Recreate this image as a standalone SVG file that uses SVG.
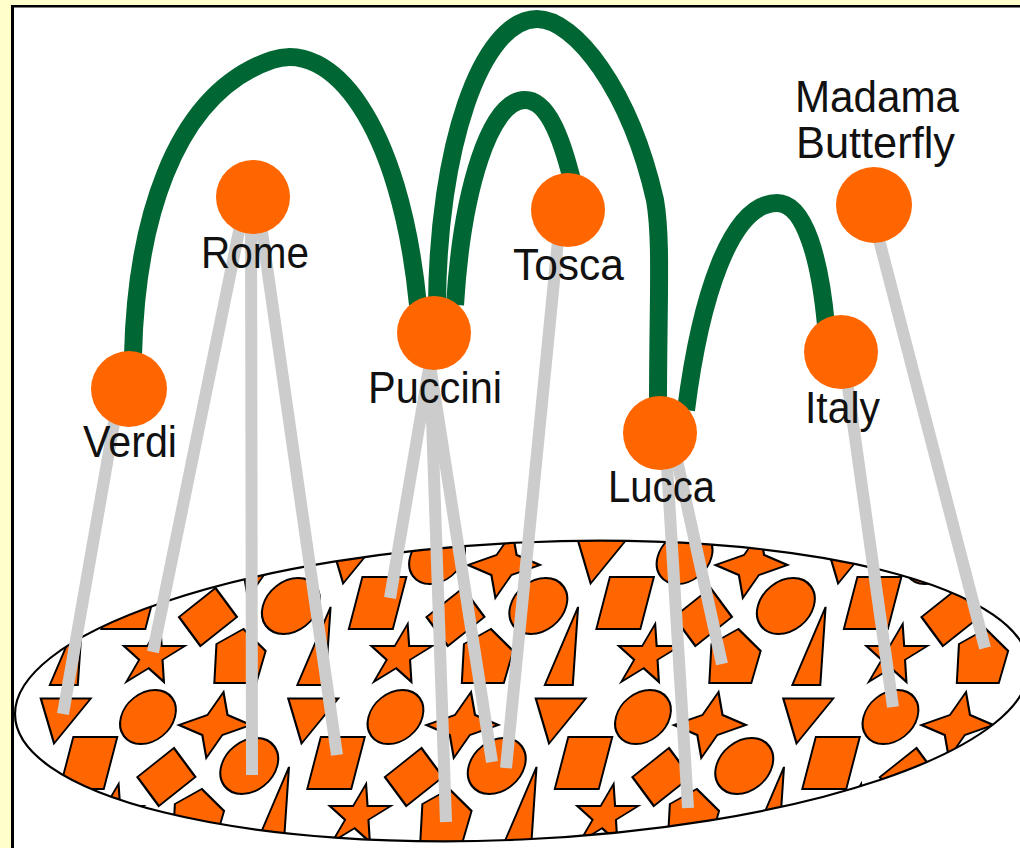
<svg xmlns="http://www.w3.org/2000/svg" xmlns:xlink="http://www.w3.org/1999/xlink" width="1020" height="848" viewBox="0 0 1020 848">
<style>
.sh{fill:#FF6600;stroke:#000;stroke-width:2}
.gl{stroke:#CCCCCC;stroke-width:12;fill:none;stroke-linecap:butt}
.ar{stroke:#006633;stroke-width:18;fill:none;stroke-linecap:butt}
.nd{fill:#FF6600}
.lb{font-family:"Liberation Sans",Arial,sans-serif;font-size:45px;fill:#111;lengthAdjust:spacingAndGlyphs}
</style>
<defs>
<polygon id="s5" points="0,-32 7.23,-9.95 30.43,-9.89 11.7,3.8 18.81,25.89 0,12.3 -18.81,25.89 -11.7,3.8 -30.43,-9.89 -7.23,-9.95"/>
<polygon id="s4" points="0,-33 10,-10 36,0 10,10 0,33 -10,10 -36,0 -10,-10"/>
<polygon id="td" points="-25,-15 25,-15 0,30"/>
<polygon id="tt" points="3,-42 18,36 -10,36"/>
<polygon id="pr" points="-22,-26 22,-26 22,26 -22,26"/>
<polygon id="tq" points="0,-29 29,0 0,29 -29,0"/>
<polygon id="pe" points="-28,-17 -5,-32 23,-10 22,22 -20,22"/>
<g id="cell" class="sh">
<use href="#s5" x="143" y="656"/>
<circle cx="155" cy="717" r="27"/>
<use href="#s4" x="224" y="725"/>
<use href="#td" x="68" y="713.5"/>
<circle cx="269" cy="606" r="28"/>
<use href="#pr" x="355" y="603"/>
<use href="#tq" x="189" y="617"/>
<use href="#pe" x="232.5" y="661"/>
<use href="#tt" x="306" y="649"/>
</g>
<clipPath id="ec">
<ellipse cx="0" cy="0" rx="507" ry="148.5" transform="translate(522,691) matrix(1,-0.0454,0,1,0,0)"/>
</clipPath>
</defs>

<g id="frame">
<rect width="1020" height="848" fill="#FFFFCC"/>
<rect x="12" y="6" width="1010" height="845" fill="#FFFFFF"/>
<line x1="11" y1="6.2" x2="1020" y2="6.2" stroke="#000" stroke-width="2.4"/>
<line x1="12.5" y1="5" x2="12.5" y2="848" stroke="#000" stroke-width="3"/>
</g>

<g id="disk">
<ellipse cx="0" cy="0" rx="507" ry="148.5" fill="#FFFFFF" transform="translate(522,691) matrix(1,-0.0454,0,1,0,0)"/>
<g clip-path="url(#ec)">
<g transform="translate(0,690) skewX(-14.57) translate(0,-690)">
<use href="#cell" x="-247.5" y="-160"/><use href="#cell" x="0" y="-160"/><use href="#cell" x="247.5" y="-160"/><use href="#cell" x="495" y="-160"/><use href="#cell" x="742.5" y="-160"/><use href="#cell" x="990" y="-160"/>
<use href="#cell" x="-247.5" y="0"/><use href="#cell" x="0" y="0"/><use href="#cell" x="247.5" y="0"/><use href="#cell" x="495" y="0"/><use href="#cell" x="742.5" y="0"/><use href="#cell" x="990" y="0"/>
<use href="#cell" x="-247.5" y="160"/><use href="#cell" x="0" y="160"/><use href="#cell" x="247.5" y="160"/><use href="#cell" x="495" y="160"/><use href="#cell" x="742.5" y="160"/><use href="#cell" x="990" y="160"/>
</g>
</g>
<ellipse cx="0" cy="0" rx="507" ry="148.5" fill="none" stroke="#000" stroke-width="2.2" transform="translate(522,691) matrix(1,-0.0454,0,1,0,0)"/>
</g>

<g id="connectors">
<line class="gl" x1="120" y1="389" x2="63" y2="714"/>
<line class="gl" x1="246" y1="197" x2="153" y2="652"/>
<line class="gl" x1="251" y1="197" x2="252" y2="775"/>
<line class="gl" x1="257" y1="197" x2="337" y2="755"/>
<line class="gl" x1="435" y1="333" x2="390" y2="598"/>
<line class="gl" x1="429" y1="333" x2="446" y2="822"/>
<line class="gl" x1="425" y1="333" x2="492" y2="762"/>
<line class="gl" x1="561" y1="210" x2="506" y2="768"/>
<line class="gl" x1="665" y1="433" x2="688" y2="808"/>
<line class="gl" x1="671" y1="433" x2="722" y2="664"/>
<line class="gl" x1="843" y1="352" x2="893" y2="707"/>
<line class="gl" x1="870" y1="205" x2="985" y2="648"/>
<path class="ar" d="M133,355 C136,230 170,95 272,60 C330,40 400,120 418,305"/>
<path class="ar" d="M455,305 C462,190 490,100 525,100 C548,100 562,140 572,180"/>
<path class="ar" d="M437,305 C438,150 480,20 537,19 C575,19 630,90 655,200 C662,240 658,300 658,405"/>
<path class="ar" d="M686,410 C700,300 730,203 777,203 C805,203 820,260 826,325"/>
</g>

<g id="node-rome"><circle class="nd" cx="253" cy="197" r="37"/><text class="lb" x="201" y="268" textLength="108" lengthAdjust="spacingAndGlyphs">Rome</text></g>
<g id="node-verdi"><circle class="nd" cx="129" cy="389" r="38"/><text class="lb" x="83" y="457" textLength="94" lengthAdjust="spacingAndGlyphs">Verdi</text></g>
<g id="node-puccini"><circle class="nd" cx="434" cy="333" r="37"/><text class="lb" x="368" y="403" textLength="134" lengthAdjust="spacingAndGlyphs">Puccini</text></g>
<g id="node-tosca"><circle class="nd" cx="568" cy="210" r="37"/><text class="lb" x="513" y="280" textLength="111" lengthAdjust="spacingAndGlyphs">Tosca</text></g>
<g id="node-lucca"><circle class="nd" cx="660" cy="433" r="37"/><text class="lb" x="608" y="502" textLength="107" lengthAdjust="spacingAndGlyphs">Lucca</text></g>
<g id="node-italy"><circle class="nd" cx="841" cy="352" r="37"/><text class="lb" x="805" y="423" textLength="75" lengthAdjust="spacingAndGlyphs">Italy</text></g>
<g id="node-madama-butterfly"><circle class="nd" cx="874" cy="205" r="38"/><text class="lb" x="795" y="112" textLength="164" lengthAdjust="spacingAndGlyphs">Madama</text><text class="lb" x="796" y="158" textLength="159" lengthAdjust="spacingAndGlyphs">Butterfly</text></g>
</svg>
